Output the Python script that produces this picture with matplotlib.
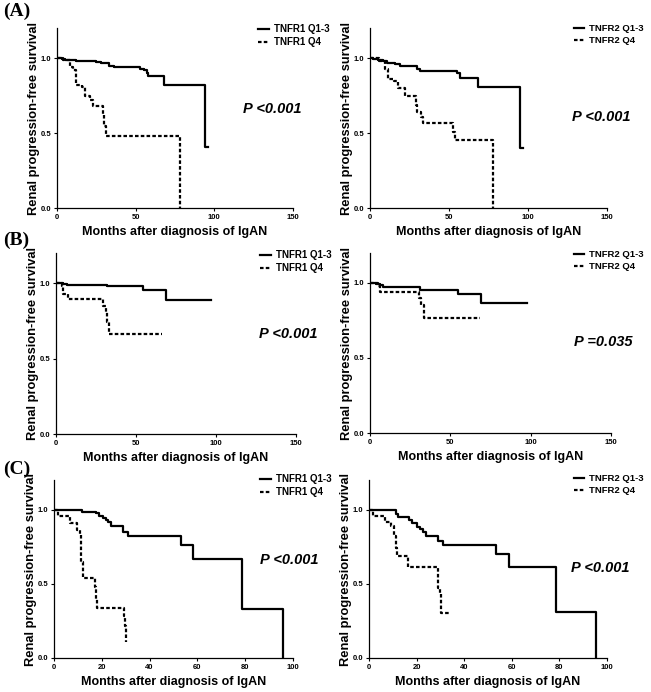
import matplotlib
matplotlib.use("Agg")
import matplotlib.pyplot as plt

plt.rcParams['font.family'] = ['Liberation Sans', 'DejaVu Sans']
plt.rcParams['font.weight'] = 'bold'

# Kaplan-Meier step data (months, survival)
# (A) whole cohort
a1_q13_t = [0, 3, 5, 8, 12, 20, 25, 28, 33, 36, 53, 55, 57, 58, 68, 94, 96]
a1_q13_s = [1.0, 0.995, 0.99, 0.985, 0.98, 0.978, 0.975, 0.97, 0.95, 0.94, 0.93, 0.92, 0.90, 0.88, 0.82, 0.41, 0.41]
a1_q4_t = [0, 4, 8, 10, 12, 16, 18, 21, 23, 29, 30, 31, 78]
a1_q4_s = [1.0, 0.985, 0.94, 0.92, 0.82, 0.81, 0.75, 0.72, 0.68, 0.62, 0.55, 0.48, 0.0]

a2_q13_t = [0, 2, 5, 8, 10.5, 16, 19, 25, 29.5, 31.5, 55, 57, 68.5, 95, 97]
a2_q13_s = [1.0, 0.995, 0.99, 0.98, 0.97, 0.962, 0.95, 0.945, 0.93, 0.915, 0.90, 0.87, 0.81, 0.40, 0.40]
a2_q4_t = [0, 6, 9.5, 11.5, 15, 18, 22, 29, 30, 32.5, 33.5, 52.5, 53.5, 78]
a2_q4_s = [1.0, 0.98, 0.93, 0.86, 0.85, 0.80, 0.75, 0.69, 0.64, 0.61, 0.57, 0.51, 0.455, 0.0]

# (B)
b1_q13_t = [0, 4.5, 6.7, 31.7, 54.6, 68.5, 97]
b1_q13_s = [1.0, 0.995, 0.989, 0.982, 0.956, 0.889, 0.889]
b1_q4_t = [0, 3.5, 4.6, 7.7, 29.6, 31, 32, 33.3, 66]
b1_q4_s = [1.0, 0.98, 0.93, 0.895, 0.85, 0.81, 0.74, 0.665, 0.665]

b2_q13_t = [0, 4, 6, 8.3, 29, 31, 55, 69, 97.5]
b2_q13_s = [1.0, 0.99, 0.985, 0.976, 0.97, 0.956, 0.929, 0.867, 0.867]
b2_q4_t = [0, 5, 6.2, 30.7, 32, 33.7, 68.6]
b2_q4_s = [1.0, 0.98, 0.94, 0.90, 0.85, 0.767, 0.767]

# (C)
c1_q13_t = [0, 11.9, 17.7, 19, 20.5, 21.6, 22.6, 24, 28.9, 31, 53.3, 58.2, 78.8, 95.8]
c1_q13_s = [1.0, 0.985, 0.975, 0.96, 0.945, 0.93, 0.915, 0.892, 0.849, 0.82, 0.76, 0.667, 0.333, 0.0]
c1_q4_t = [0, 1.7, 6.6, 9.8, 10.7, 11.2, 12.1, 17, 17.4, 18.1, 29.2, 29.8, 30.3]
c1_q4_s = [1.0, 0.955, 0.91, 0.86, 0.83, 0.65, 0.539, 0.48, 0.40, 0.337, 0.28, 0.213, 0.108]

c2_q13_t = [0, 11.5, 12.2, 17, 18, 20, 21.3, 22.7, 24, 29, 31, 53.2, 58.7, 78.7, 95.5]
c2_q13_s = [1.0, 0.97, 0.95, 0.93, 0.91, 0.885, 0.872, 0.85, 0.825, 0.79, 0.764, 0.703, 0.613, 0.31, 0.0]
c2_q4_t = [0, 1.7, 6.6, 9.4, 10.4, 11.2, 11.9, 16.4, 29, 29.7, 30.1, 33.9]
c2_q4_s = [1.0, 0.955, 0.92, 0.89, 0.82, 0.74, 0.69, 0.613, 0.47, 0.43, 0.303, 0.303]

p_texts = ['P <0.001', 'P <0.001', 'P <0.001', 'P =0.035', 'P <0.001', 'P <0.001']
labels_r1 = ['TNFR1 Q1-3', 'TNFR1 Q4']
labels_r2 = ['TNFR2 Q1-3', 'TNFR2 Q4']

W, H = 651, 692
fig = plt.figure(figsize=(W / 100, H / 100), dpi=100)


def px(l, r, t, b):
    return [l / W, 1 - b / H, (r - l) / W, (b - t) / H]


panels = [
    (px(57, 293, 28, 208), a1_q13_t, a1_q13_s, a1_q4_t, a1_q4_s, labels_r1, 150, (118, 0.66), (258, 24), 7),
    (px(370, 607, 28, 208), a2_q13_t, a2_q13_s, a2_q4_t, a2_q4_s, labels_r2, 150, (128, 0.61), (574, 24), 6.8),
    (px(56, 296, 253, 434), b1_q13_t, b1_q13_s, b1_q4_t, b1_q4_s, labels_r1, 150, (127, 0.66), (260, 250), 7),
    (px(370, 611, 253, 433), b2_q13_t, b2_q13_s, b2_q4_t, b2_q4_s, labels_r2, 150, (127, 0.61), (574, 250), 6.8),
    (px(54, 293, 480, 658), c1_q13_t, c1_q13_s, c1_q4_t, c1_q4_s, labels_r1, 100, (86, 0.66), (260, 474), 7),
    (px(369, 607, 480, 658), c2_q13_t, c2_q13_s, c2_q4_t, c2_q4_s, labels_r2, 100, (85, 0.61), (574, 474), 6.8),
]

for i, (pos, t1, s1, t2, s2, labs, xmax, ptxt, legpos, legfs) in enumerate(panels):
    ax = fig.add_axes(pos)
    ax.step(t1, s1, where='post', color='black', lw=1.6, label=labs[0])
    ax.step(t2, s2, where='post', color='black', lw=1.6, linestyle=(0, (1.6, 1.0)), label=labs[1])
    ax.set_xlim(0, xmax)
    ax.set_ylim(0, 1.2)
    ax.set_yticks([0, 0.5, 1.0])
    ax.set_yticklabels(['0.0', '0.5', '1.0'])
    if xmax == 150:
        ax.set_xticks([0, 50, 100, 150])
    else:
        ax.set_xticks([0, 20, 40, 60, 80, 100])
    ax.spines['top'].set_visible(False)
    ax.spines['right'].set_visible(False)
    ax.spines['left'].set_linewidth(0.9)
    ax.spines['bottom'].set_linewidth(0.9)
    ax.tick_params(labelsize=5.5, length=2.5, width=0.8, pad=1.5)
    ax.set_xlabel('Months after diagnosis of IgAN', fontsize=9, fontweight='bold', labelpad=4)
    ax.set_ylabel('Renal progression-free survival', fontsize=9.3, fontweight='bold', labelpad=0.5)
    ax.text(ptxt[0], ptxt[1], p_texts[i], fontsize=10.5, fontstyle='italic', fontweight='bold', va='center')
    ax.legend(loc='upper left', bbox_to_anchor=(legpos[0] / W, 1 - legpos[1] / H),
              bbox_transform=fig.transFigure, frameon=False,
              handlelength=1.1, handletextpad=0.5, labelspacing=0.3,
              borderpad=0, borderaxespad=0, prop={'weight': 'bold', 'size': legfs})

for lab, y in [('(A)', 11), ('(B)', 240), ('(C)', 469)]:
    fig.text(3 / W, 1 - y / H, lab, family='Liberation Serif', fontsize=14, fontweight='bold', va='center')

plt.savefig('out.png', dpi=100)
